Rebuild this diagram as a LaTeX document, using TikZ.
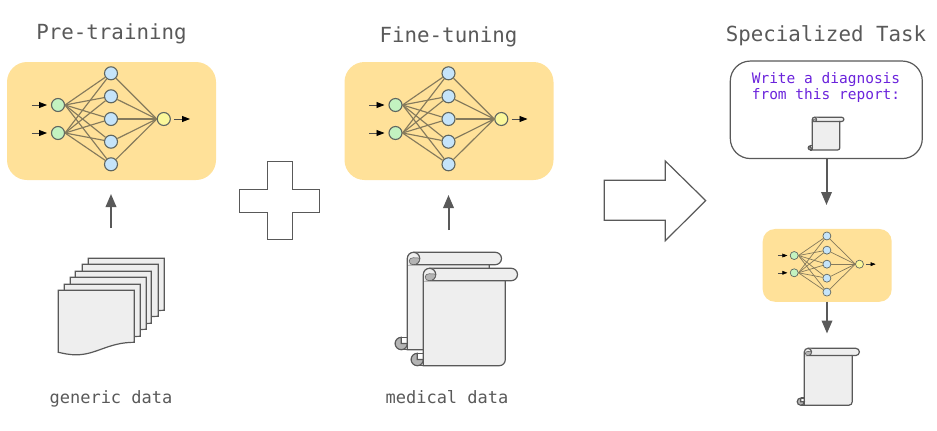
\documentclass[tikz,border=0pt]{standalone}
\usepackage{fontspec}
\setmonofont{DejaVu Sans Mono}
\usetikzlibrary{arrows.meta}
\definecolor{ink}{HTML}{595959}
\definecolor{sheet}{HTML}{EEEEEE}
\definecolor{curl}{HTML}{B4B4B4}
\definecolor{panel}{HTML}{FFE199}
\definecolor{ngreen}{HTML}{C3F2C0}
\definecolor{nblue}{HTML}{C5E4FA}
\definecolor{nyellow}{HTML}{FBF79A}
\definecolor{purpletext}{HTML}{6B23DC}
\definecolor{synapse}{HTML}{857A5C}
\definecolor{neuronline}{HTML}{5F6660}
\tikzset{
  outline/.style={draw=ink,line width=1.2pt,line join=miter},
  neuron/.style={circle,draw=neuronline,minimum size=13pt,inner sep=0pt,transform shape},
  syn/.style={draw=synapse},
  bigarrow/.style={draw=ink,line width=2pt,-{Triangle[length=13pt,width=10.5pt]}},
  title/.style={font=\ttfamily\fontsize{20.8}{24}\selectfont,text=ink,inner sep=0pt,anchor=base},
  caption/.style={font=\ttfamily\fontsize{17}{20}\selectfont,text=ink,inner sep=0pt,anchor=base},
}
% #1 prefix, #2 centre, #3 scale
\newcommand{\netdraw}[3]{%
\begin{scope}[shift={#2},scale=#3]
  \pgfmathsetmacro{\lwn}{1.1*#3}
  \pgfmathsetmacro{\lws}{1.15*#3}
  \pgfmathsetmacro{\lwa}{.8*#3}
  \pgfmathsetmacro{\hl}{8*#3}
  \pgfmathsetmacro{\hw}{6*#3}
  \pgfmathsetmacro{\rc}{20*#3}
  \fill[panel,rounded corners=\rc pt] (-104.5,-59) rectangle (104.5,59);
  \node[neuron,fill=ngreen,line width=\lwn pt] (#1g1) at (-53.5,-16) {};
  \node[neuron,fill=ngreen,line width=\lwn pt] (#1g2) at (-53.5,12) {};
  \foreach \i/\yy in {1/-47.7,2/-24.7,3/-2,4/20.7,5/43.3}{
    \node[neuron,fill=nblue,line width=\lwn pt] (#1b\i) at (-.5,\yy) {};
  }
  \node[neuron,fill=nyellow,line width=\lwn pt] (#1y) at (52.3,-2) {};
  \foreach \i in {1,...,5}{
    \draw[syn,line width=\lws pt] (#1g1.east) -- (#1b\i);
    \draw[syn,line width=\lws pt] (#1g2.east) -- (#1b\i);
    \draw[syn,line width=\lws pt] (#1b\i) -- (#1y.west);
  }
  \coordinate (#1i1) at (-79.8,-16);
  \coordinate (#1i1e) at (-64.5,-16);
  \coordinate (#1i2) at (-79.8,12);
  \coordinate (#1i2e) at (-64.5,12);
  \coordinate (#1os) at (62.5,-2);
  \coordinate (#1o) at (78.5,-2);
  \foreach \s/\e in {#1i1/#1i1e,#1i2/#1i2e,#1os/#1o}{
    \draw[draw=black!70,line width=\lwa pt,-{Triangle[length=\hl pt,width=\hw pt,color=black]}] (\s) -- (\e);
  }
\end{scope}}
% #1 top-left of body, #2 scale
\newcommand{\scrolldraw}[2]{%
\begin{scope}[shift={#1},scale=#2]
  \path[outline,fill=sheet] (0,6.2) .. controls (0,2.8) and (2.8,0) .. (6.2,0) -- (88,0)
     .. controls (91.4,0) and (94.2,2.8) .. (94.2,6.2) .. controls (94.2,9.6) and (91.4,12.4) .. (88,12.4)
     -- (82,12.4) -- (82,91.2) .. controls (82,94.6) and (79.4,97.4) .. (76,97.4) -- (0,97.4) -- cycle;
  % top curl
  \path[outline,fill=sheet] (6.2,0) .. controls (9.6,0) and (12.4,2.8) .. (12.4,6.2)
     .. controls (12.4,9.6) and (9.6,12.4) .. (6.2,12.4) -- (82,12.4);
  \path[draw=ink,line width=.5pt,fill=curl] (12.4,5.8) .. controls (12.4,9.6) and (9.6,12.4) .. (6.2,12.4)
     .. controls (3.6,12.4) and (1.8,10.8) .. (1.8,8.8) .. controls (1.8,6.6) and (3.6,5.4) .. (6.2,5.4) -- cycle;
  % bottom curl
  \path[outline,fill=curl] (-6,91.2) -- (-6,85) .. controls (-9.4,85) and (-12.2,87.8) .. (-12.2,91.2)
     .. controls (-12.2,94.6) and (-9.4,97.4) .. (-6,97.4) .. controls (-2.6,97.4) and (0,94.6) .. (0,91.2) -- cycle;
  \draw[outline] (-6,85) -- (0,85);
  \draw[outline] (-6,97.4) -- (0,97.4);
\end{scope}}
\newcommand{\pagedraw}[2]{%
  \path[outline,fill=sheet,shift={(#1,#2)}] (0,0) -- (76,0) -- (76,52)
    .. controls (50,52) and (38,64.5) .. (18,64.5) .. controls (10,64.5) and (5,63) .. (0,62) -- cycle;
}
\begin{document}
\begin{tikzpicture}[x=1pt,y=-1pt]
\useasboundingbox (0,0) rectangle (937,431);
% titles
\node[title] (t1) at (111.5,39) {Pre-training};
\node[title] (t2) at (448.5,42) {Fine-tuning};
\node[title] (t3) at (826,41) {Specialized Task};
% nets
\netdraw{a}{(111.5,121)}{1}
\netdraw{b}{(449,121)}{1}
% stack
\pagedraw{88.3}{258.3}
\pagedraw{82.3}{264.3}
\pagedraw{75.3}{271.3}
\pagedraw{70.3}{277.3}
\pagedraw{64.3}{284.3}
\pagedraw{58.3}{290.3}
% scrolls
\scrolldraw{(407.3,252.3)}{1}
\scrolldraw{(423.3,268.3)}{1}
% captions
\node[caption] (c1) at (111,403) {generic data};
\node[caption] (c2) at (447,403) {medical data};
% plus
\path[outline,fill=white] (267.3,161.3) -- (292.3,161.3) -- (292.3,189.3) -- (319.7,189.3) -- (319.7,212.3) -- (292.3,212.3) -- (292.3,239.3) -- (267.3,239.3) -- (267.3,212.3) -- (239.3,212.3) -- (239.3,189.3) -- (267.3,189.3) -- cycle;
% big arrow
\path[outline,fill=white] (604.3,180.3) -- (665.3,180.3) -- (665.3,161) -- (705.7,200.6) -- (665.3,240.7) -- (665.3,220.3) -- (604.3,220.3) -- cycle;
% prompt box
\node[outline,fill=white,rounded corners=20pt,minimum width=192pt,minimum height=97.5pt,inner sep=0pt] (prompt) at (826.3,109.8) {};
\node[font=\ttfamily\fontsize{14.5}{15.3}\selectfont,text=purpletext,align=center,inner sep=0pt] (ptext) at (826,87.5) {Write a diagnosis\\from this report:};
\scrolldraw{(812.3,117.3)}{.335}
% third net
\netdraw{c}{(827.2,265.4)}{.617}
\scrolldraw{(804.3,348.3)}{.585}
% arrows
\coordinate (u1s) at (111,228); \coordinate (u1e) at (111,194);
\coordinate (u2s) at (448.5,230); \coordinate (u2e) at (448.5,195);
\coordinate (d1e) at (826.5,205);
\coordinate (d2s) at (827,301.7);
\coordinate (d2e) at (827,333.5);
\draw[bigarrow] (u1s) -- (u1e);
\draw[bigarrow] (u2s) -- (u2e);
\draw[bigarrow] (prompt.south -| d1e) -- (d1e);
\draw[bigarrow] (d2s) -- (d2e);
\end{tikzpicture}
\end{document}
